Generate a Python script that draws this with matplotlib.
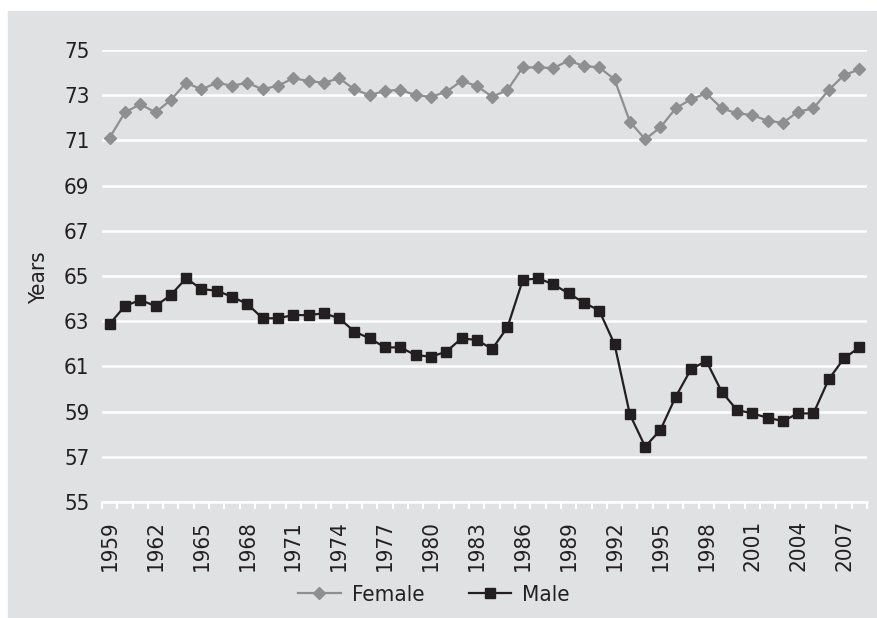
import matplotlib
matplotlib.use("Agg")
import matplotlib.pyplot as plt
from matplotlib.patches import Rectangle

plt.rcParams['font.family'] = ['DejaVu Sans']
plt.rcParams['font.stretch'] = 'condensed'

years = list(range(1959, 2009))
female = [71.12, 72.24, 72.60, 72.24, 72.79, 73.55, 73.26, 73.55, 73.42, 73.55,
          73.26, 73.42, 73.75, 73.63, 73.55, 73.75, 73.26, 73.00, 73.19, 73.24,
          73.00, 72.93, 73.15, 73.63, 73.41, 72.93, 73.23, 74.23, 74.23, 74.20,
          74.53, 74.29, 74.23, 73.70, 71.83, 71.05, 71.58, 72.42, 72.82, 73.08,
          72.42, 72.20, 72.12, 71.87, 71.78, 72.27, 72.42, 73.23, 73.89, 74.14]
male = [62.88, 63.67, 63.94, 63.67, 64.16, 64.90, 64.42, 64.35, 64.08, 63.76,
        63.13, 63.13, 63.27, 63.27, 63.35, 63.13, 62.54, 62.24, 61.84, 61.84,
        61.50, 61.43, 61.65, 62.24, 62.17, 61.77, 62.73, 64.82, 64.90, 64.63,
        64.23, 63.82, 63.47, 61.98, 58.88, 57.45, 58.19, 59.66, 60.88, 61.24,
        59.88, 59.07, 58.92, 58.73, 58.58, 58.92, 58.92, 60.43, 61.36, 61.84]
yticks = list(range(55, 76, 2))

bg = "#e0e1e3"
grey = "#8e8f91"
dark = "#231f20"

fig = plt.figure(figsize=(8.78, 6.18), dpi=100)
fig.patches.append(Rectangle((8 / 878, 0), 868 / 878, 607 / 618,
                             transform=fig.transFigure, color=bg, zorder=-5))

ax = fig.add_axes([102 / 878, 1 - 502 / 618, 765 / 878, 452 / 618])
ax.set_zorder(2)
ax.set_facecolor(bg)

x = list(range(len(years)))
ax.plot(x, female, color=grey, lw=1.6, marker="D", ms=6, label="Female", zorder=3)
ax.plot(x, male, color=dark, lw=1.6, marker="s", ms=7, label="Male", zorder=3)

ax.set_xlim(-0.5, len(years) - 0.5)
ax.set_ylim(55, 75)
ax.set_yticks(yticks)
ax.set_yticklabels([str(v) for v in yticks])
ax.yaxis.grid(True, color="white", lw=1.8)
ax.set_axisbelow(True)
ax.tick_params(axis="y", length=0, pad=9, labelsize=16, labelcolor=dark)

ax.set_xticks([i - 0.5 for i in range(len(years) + 1)], minor=True)
ax.set_xticks(x[::3])
ax.set_xticklabels([str(y) for y in years[::3]], rotation=90)
ax.tick_params(axis="x", which="major", length=0, pad=13, labelsize=16, labelcolor=dark)
ax.tick_params(axis="x", which="minor", length=5, width=1.5, color="white")

for s in ["top", "right", "left"]:
    ax.spines[s].set_visible(False)
ax.spines["bottom"].set_color("white")
ax.spines["bottom"].set_linewidth(1.8)

fig.text(39 / 878, 1 - 278 / 618, "Years", rotation=90, ha="center", va="center",
         fontsize=16, color=dark)

leg = fig.legend(loc="center", bbox_to_anchor=(434 / 878, 1 - 595 / 618), ncol=2,
                 frameon=False, fontsize=16, handlelength=1.9, handletextpad=0.5,
                 columnspacing=2.0, labelcolor=dark)

fig.savefig("out.png", dpi=100)
